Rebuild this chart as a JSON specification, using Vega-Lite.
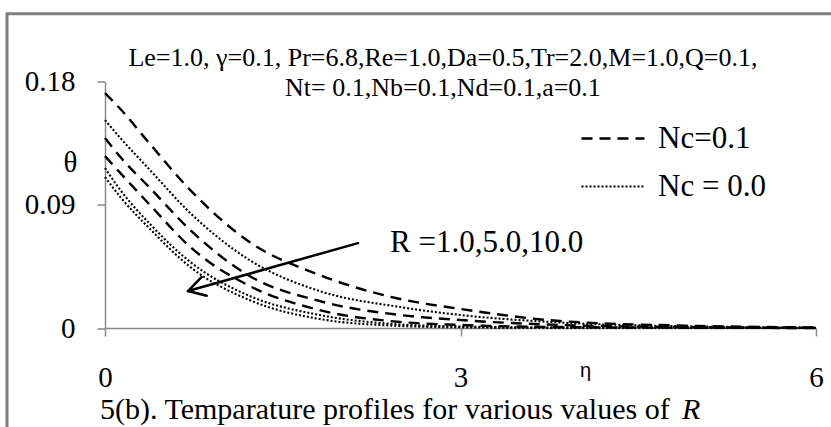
{
  "$schema": "https://vega.github.io/schema/vega-lite/v6.json",
  "width": 711,
  "height": 246.5,
  "autosize": {"type": "none"},
  "padding": {"left": 105, "top": 81.5, "right": 15, "bottom": 99},
  "background": "white",
  "config": {"view": {"stroke": null}, "font": "Liberation Serif"},
  "datasets": {
    "profiles": [
      {"eta": 0, "theta": 0.1715, "R": 1, "Nc": "Nc=0.1"},
      {"eta": 0.13, "theta": 0.1599, "R": 1, "Nc": "Nc=0.1"},
      {"eta": 0.38, "theta": 0.1343, "R": 1, "Nc": "Nc=0.1"},
      {"eta": 0.72, "theta": 0.1007, "R": 1, "Nc": "Nc=0.1"},
      {"eta": 1.22, "theta": 0.0628, "R": 1, "Nc": "Nc=0.1"},
      {"eta": 1.81, "theta": 0.0387, "R": 1, "Nc": "Nc=0.1"},
      {"eta": 2.49, "theta": 0.0212, "R": 1, "Nc": "Nc=0.1"},
      {"eta": 3.0, "theta": 0.0139, "R": 1, "Nc": "Nc=0.1"},
      {"eta": 3.84, "theta": 0.0051, "R": 1, "Nc": "Nc=0.1"},
      {"eta": 5.02, "theta": 0.0015, "R": 1, "Nc": "Nc=0.1"},
      {"eta": 6, "theta": 0.0004, "R": 1, "Nc": "Nc=0.1"},
      {"eta": 0, "theta": 0.1387, "R": 5, "Nc": "Nc=0.1"},
      {"eta": 0.13, "theta": 0.1248, "R": 5, "Nc": "Nc=0.1"},
      {"eta": 0.38, "theta": 0.1022, "R": 5, "Nc": "Nc=0.1"},
      {"eta": 0.72, "theta": 0.0715, "R": 5, "Nc": "Nc=0.1"},
      {"eta": 1.22, "theta": 0.038, "R": 5, "Nc": "Nc=0.1"},
      {"eta": 1.81, "theta": 0.0197, "R": 5, "Nc": "Nc=0.1"},
      {"eta": 2.49, "theta": 0.0095, "R": 5, "Nc": "Nc=0.1"},
      {"eta": 3.0, "theta": 0.0058, "R": 5, "Nc": "Nc=0.1"},
      {"eta": 3.84, "theta": 0.0022, "R": 5, "Nc": "Nc=0.1"},
      {"eta": 5.02, "theta": 0.0005, "R": 5, "Nc": "Nc=0.1"},
      {"eta": 6, "theta": 0.0001, "R": 5, "Nc": "Nc=0.1"},
      {"eta": 0, "theta": 0.1255, "R": 10, "Nc": "Nc=0.1"},
      {"eta": 0.13, "theta": 0.1131, "R": 10, "Nc": "Nc=0.1"},
      {"eta": 0.38, "theta": 0.0898, "R": 10, "Nc": "Nc=0.1"},
      {"eta": 0.72, "theta": 0.0591, "R": 10, "Nc": "Nc=0.1"},
      {"eta": 1.22, "theta": 0.0307, "R": 10, "Nc": "Nc=0.1"},
      {"eta": 1.81, "theta": 0.0131, "R": 10, "Nc": "Nc=0.1"},
      {"eta": 2.49, "theta": 0.0044, "R": 10, "Nc": "Nc=0.1"},
      {"eta": 3.0, "theta": 0.0022, "R": 10, "Nc": "Nc=0.1"},
      {"eta": 3.84, "theta": 0.0007, "R": 10, "Nc": "Nc=0.1"},
      {"eta": 5.02, "theta": 0.0002, "R": 10, "Nc": "Nc=0.1"},
      {"eta": 6, "theta": 0.0, "R": 10, "Nc": "Nc=0.1"},
      {"eta": 0, "theta": 0.1518, "R": 1, "Nc": "Nc = 0.0"},
      {"eta": 0.13, "theta": 0.1387, "R": 1, "Nc": "Nc = 0.0"},
      {"eta": 0.38, "theta": 0.1153, "R": 1, "Nc": "Nc = 0.0"},
      {"eta": 0.72, "theta": 0.0839, "R": 1, "Nc": "Nc = 0.0"},
      {"eta": 1.22, "theta": 0.0496, "R": 1, "Nc": "Nc = 0.0"},
      {"eta": 1.81, "theta": 0.027, "R": 1, "Nc": "Nc = 0.0"},
      {"eta": 2.49, "theta": 0.0153, "R": 1, "Nc": "Nc = 0.0"},
      {"eta": 3.0, "theta": 0.0095, "R": 1, "Nc": "Nc = 0.0"},
      {"eta": 3.84, "theta": 0.004, "R": 1, "Nc": "Nc = 0.0"},
      {"eta": 5.02, "theta": 0.0011, "R": 1, "Nc": "Nc = 0.0"},
      {"eta": 6, "theta": 0.0002, "R": 1, "Nc": "Nc = 0.0"},
      {"eta": 0, "theta": 0.1168, "R": 5, "Nc": "Nc = 0.0"},
      {"eta": 0.13, "theta": 0.1007, "R": 5, "Nc": "Nc = 0.0"},
      {"eta": 0.38, "theta": 0.0759, "R": 5, "Nc": "Nc = 0.0"},
      {"eta": 0.72, "theta": 0.0482, "R": 5, "Nc": "Nc = 0.0"},
      {"eta": 1.22, "theta": 0.0234, "R": 5, "Nc": "Nc = 0.0"},
      {"eta": 1.81, "theta": 0.0095, "R": 5, "Nc": "Nc = 0.0"},
      {"eta": 2.49, "theta": 0.0026, "R": 5, "Nc": "Nc = 0.0"},
      {"eta": 3.0, "theta": 0.0011, "R": 5, "Nc": "Nc = 0.0"},
      {"eta": 3.84, "theta": 0.0003, "R": 5, "Nc": "Nc = 0.0"},
      {"eta": 5.02, "theta": 0.0001, "R": 5, "Nc": "Nc = 0.0"},
      {"eta": 6, "theta": 0.0, "R": 5, "Nc": "Nc = 0.0"},
      {"eta": 0, "theta": 0.1102, "R": 10, "Nc": "Nc = 0.0"},
      {"eta": 0.13, "theta": 0.0956, "R": 10, "Nc": "Nc = 0.0"},
      {"eta": 0.38, "theta": 0.0723, "R": 10, "Nc": "Nc = 0.0"},
      {"eta": 0.72, "theta": 0.0445, "R": 10, "Nc": "Nc = 0.0"},
      {"eta": 1.22, "theta": 0.0204, "R": 10, "Nc": "Nc = 0.0"},
      {"eta": 1.81, "theta": 0.0066, "R": 10, "Nc": "Nc = 0.0"},
      {"eta": 2.49, "theta": 0.0015, "R": 10, "Nc": "Nc = 0.0"},
      {"eta": 3.0, "theta": 0.0005, "R": 10, "Nc": "Nc = 0.0"},
      {"eta": 3.84, "theta": 0.0001, "R": 10, "Nc": "Nc = 0.0"},
      {"eta": 5.02, "theta": 0.0, "R": 10, "Nc": "Nc = 0.0"},
      {"eta": 6, "theta": 0.0, "R": 10, "Nc": "Nc = 0.0"}
    ],
    "frame": [{"eta": -0.827, "eta2": 7.5, "theta": 0.2294, "theta2": -0.3}],
    "arrow": [
      {"eta": 2.135, "theta": 0.062, "eta2": 0.7004, "theta2": 0.027},
      {"eta": 0.7004, "theta": 0.027, "eta2": 0.816, "theta2": 0.0374},
      {"eta": 0.7004, "theta": 0.027, "eta2": 0.858, "theta2": 0.0236}
    ],
    "params": [
      {"eta": 2.852, "theta": 0.1971, "label": "Le=1.0, γ=0.1, Pr=6.8,Re=1.0,Da=0.5,Tr=2.0,M=1.0,Q=0.1,"},
      {"eta": 2.852, "theta": 0.1752, "label": "Nt= 0.1,Nb=0.1,Nd=0.1,a=0.1"}
    ],
    "rlabel": [{"eta": 2.405, "theta": 0.062, "label": "R =1.0,5.0,10.0"}],
    "caption": [{"eta": -0.042, "theta": -0.0599, "label": "5(b).  Temparature  profiles for various values of"}],
    "captionR": [{"eta": 4.87, "theta": -0.0599, "label": "R"}]
  },
  "encoding": {
    "x": {
      "field": "eta", "type": "quantitative",
      "scale": {"domain": [0, 6], "nice": false, "zero": false},
      "axis": {
        "values": [0, 3, 6], "title": "η", "grid": false,
        "titleFont": "Liberation Sans", "titleFontSize": 20, "titleFontWeight": "normal", "titleColor": "black",
        "titleX": 480, "titleY": 42, "titleAlign": "center", "titleBaseline": "middle", "titleAngle": 0,
        "labelFont": "Liberation Serif", "labelFontSize": 29, "labelColor": "black",
        "labelPadding": 41, "labelBaseline": "middle", "labelFlush": false,
        "tickSize": 8, "tickColor": "#898989", "tickWidth": 1.5,
        "domainColor": "#898989", "domainWidth": 1.5
      }
    },
    "y": {
      "field": "theta", "type": "quantitative",
      "scale": {"domain": [0, 0.18], "nice": false},
      "axis": {
        "values": [0, 0.09, 0.18], "format": "~g", "title": "θ", "grid": false,
        "titleFont": "Liberation Serif", "titleFontSize": 29, "titleFontWeight": "normal", "titleColor": "black",
        "titleX": -35, "titleY": 80.5, "titleAlign": "center", "titleBaseline": "middle", "titleAngle": 0,
        "labelFont": "Liberation Serif", "labelFontSize": 29, "labelColor": "black",
        "labelPadding": 22, "labelFlush": false,
        "tickSize": 8, "tickColor": "#898989", "tickWidth": 1.5,
        "domainColor": "#898989", "domainWidth": 1.5
      }
    }
  },
  "layer": [
    {
      "data": {"name": "frame"},
      "mark": {"type": "rect", "filled": false, "stroke": "#7f7f7f", "strokeWidth": 3},
      "encoding": {"x2": {"field": "eta2"}, "y2": {"field": "theta2"}}
    },
    {
      "data": {"name": "profiles"},
      "mark": {"type": "line", "color": "black", "interpolate": "monotone"},
      "encoding": {
        "detail": {"field": "R", "type": "nominal"},
        "strokeWidth": {
          "field": "Nc", "type": "nominal",
          "scale": {"domain": ["Nc=0.1", "Nc = 0.0"], "range": [2.4, 2.1]},
          "legend": null
        },
        "strokeDash": {
          "field": "Nc", "type": "nominal",
          "scale": {"domain": ["Nc=0.1", "Nc = 0.0"], "range": [[11, 7], [2, 2]]},
          "legend": {
            "orient": "none", "legendX": 475, "legendY": 24, "direction": "vertical",
            "title": null, "padding": 0,
            "labelFont": "Liberation Serif", "labelFontSize": 31, "labelColor": "black",
            "labelOffset": 12, "rowPadding": -7,
            "symbolType": "stroke", "symbolSize": 3969, "symbolStrokeWidth": 2,
            "symbolStrokeColor": "black"
          }
        }
      }
    },
    {
      "data": {"name": "arrow"},
      "mark": {"type": "rule", "color": "black", "strokeWidth": 2.5, "strokeCap": "round"},
      "encoding": {"x2": {"field": "eta2"}, "y2": {"field": "theta2"}}
    },
    {
      "data": {"name": "params"},
      "mark": {"type": "text", "font": "Liberation Serif", "fontSize": 26, "align": "center", "baseline": "middle", "color": "black"},
      "encoding": {"text": {"field": "label"}}
    },
    {
      "data": {"name": "rlabel"},
      "mark": {"type": "text", "font": "Liberation Serif", "fontSize": 31, "align": "left", "baseline": "middle", "color": "black"},
      "encoding": {"text": {"field": "label"}}
    },
    {
      "data": {"name": "caption"},
      "mark": {"type": "text", "font": "Liberation Serif", "fontSize": 30, "align": "left", "baseline": "middle", "color": "black"},
      "encoding": {"text": {"field": "label"}}
    },
    {
      "data": {"name": "captionR"},
      "mark": {"type": "text", "font": "Liberation Serif", "fontSize": 30, "fontStyle": "italic", "align": "left", "baseline": "middle", "color": "black"},
      "encoding": {"text": {"field": "label"}}
    }
  ]
}
